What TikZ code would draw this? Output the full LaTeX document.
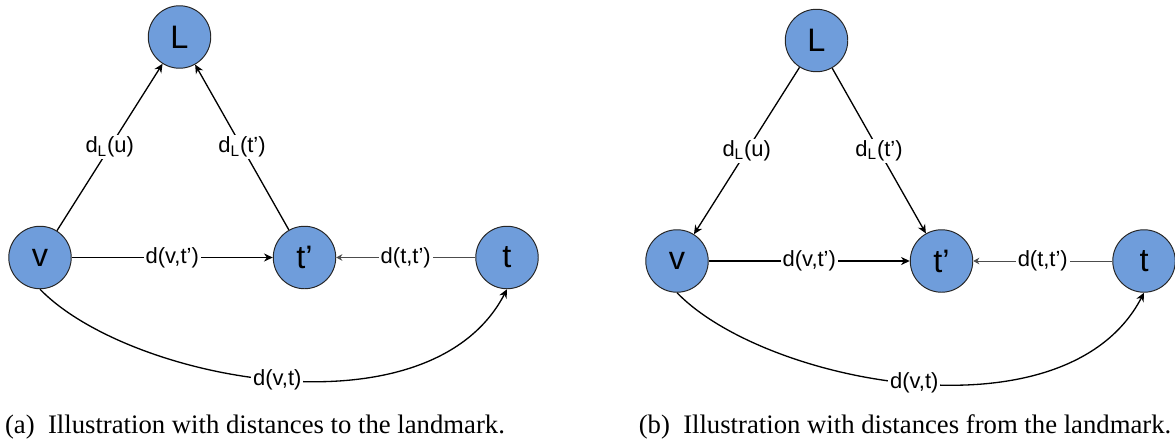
\documentclass[tikz,border=0pt]{standalone}
\usepackage{fontspec}
\setmainfont{Liberation Serif}
\setsansfont{Liberation Sans}
\usetikzlibrary{arrows.meta}

\definecolor{nodeblue}{RGB}{111,157,219}

\begin{document}
\begin{tikzpicture}[x=0.02cm, y=-0.02cm, line width=0.75pt,
    >={Stealth[length=5pt, width=4.6pt]},
    vertex/.style={circle, draw=black!85, line width=0.55pt, fill=nodeblue, minimum size=1.25cm, inner sep=0pt, font=\sffamily\fontsize{18.5}{20}\selectfont},
    lbl/.style={fill=white, text=black, inner sep=1pt, font=\sffamily\fontsize{12.5}{14}\selectfont},
    weak/.style={black!70, line width=0.5pt, -{Stealth[length=3.5pt, width=3.8pt]}},
    caption/.style={anchor=base, font=\fontsize{15.2}{17}\selectfont}]

    \useasboundingbox (0,0) rectangle (1175,446);

    % SOL: LANDMARK'A UZAKLIK
    \begin{scope}
        \node[vertex] (La) at (179.5, 37) {L};
        \node[vertex] (va) at (40, 257.5) {v};
        \node[vertex] (tpa) at (304.5, 257.5) {t’};
        \node[vertex] (ta) at (507, 257.5) {t};

        % Oklar
        \draw[->] (va) -- node[lbl] {d\textsubscript{L}(u)} (La);
        \draw[->] (tpa) -- node[lbl] {d\textsubscript{L}(t’)} (La);
        \draw[->] (va) -- node[lbl] {d(v,t’)} (tpa);
        \draw[weak] (ta) -- node[lbl] {d(t,t’)} (tpa);
        \draw[->] (va.south) .. controls +(88,91) and +(-78,150) .. (ta.south) node[lbl, pos=0.5] {d(v,t)};
    \end{scope}

    % SAG: LANDMARK'TAN UZAKLIK
    \begin{scope}[shift={(637,3.5)}]
        \node[vertex] (Lb) at (179.5, 37) {L};
        \node[vertex] (vb) at (40, 257.5) {v};
        \node[vertex] (tpb) at (304.5, 257.5) {t’};
        \node[vertex] (tb) at (507, 257.5) {t};

        % Oklar
        \draw[->] (Lb) -- node[lbl] {d\textsubscript{L}(u)} (vb);
        \draw[->] (Lb) -- node[lbl] {d\textsubscript{L}(t’)} (tpb);
        \draw[->] (vb) -- node[lbl] {d(v,t’)} (tpb);
        \draw[weak] (tb) -- node[lbl] {d(t,t’)} (tpb);
        \draw[->] (vb.south) .. controls +(88,91) and +(-78,150) .. (tb.south) node[lbl, pos=0.5] {d(v,t)};
    \end{scope}

    % Alt yazilar
    \node[caption] (capa) at (255, 433) {(a)\enspace Illustration with distances to the landmark.};
    \node[caption] (capb) at (905, 433) {(b)\enspace Illustration with distances from the landmark.};
\end{tikzpicture}
\end{document}
